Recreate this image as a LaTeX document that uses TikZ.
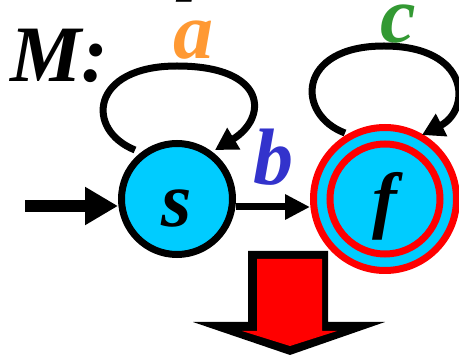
\documentclass[tikz,border=0pt]{standalone}
\usepackage{fontspec}
\setmainfont{Liberation Serif}
\usetikzlibrary{arrows.meta}
\definecolor{stcyan}{HTML}{00CCFF}
\definecolor{labA}{HTML}{FF9933}
\definecolor{labB}{HTML}{3333CC}
\definecolor{labC}{HTML}{339933}
\definecolor{ringred}{HTML}{FF0000}
\tikzset{
  lbl/.style={font=\fontsize{80}{80}\selectfont\bfseries\itshape, inner sep=0pt, anchor=base},
  loopline/.style={line width=7pt, -{Triangle[length=22pt,width=24pt]}},
  statenode/.style={circle, fill=stcyan, inner sep=0pt},
}
\begin{document}
\begin{tikzpicture}[x=1pt,y=-1pt]
\useasboundingbox (0,0) rectangle (459,355);
% fragment of line above
\node[lbl, font=\fontsize{60}{60}\selectfont\bfseries\itshape] (top) at (195,-10) {p};
% states
\node[statenode, draw=black, line width=7pt, minimum size=111pt] (s) at (177,199) {};
\node[lbl, font=\fontsize{78}{78}\selectfont\bfseries\itshape] (slab) at (177,227) {s};
\node[statenode, draw=ringred, line width=7pt, minimum size=143pt] (f) at (385,199) {};
\draw[ringred, line width=7pt] (f.center) circle (55);
\node[lbl, font=\fontsize{74}{74}\selectfont\bfseries\itshape] (flab) at (385,225) {f};
% labels
\node[lbl, anchor=base west] (M) at (10,82) {M:};
\node[lbl, text=labA] (a) at (193,59) {a};
\node[lbl, text=labB] (b) at (273,185) {b};
\node[lbl, text=labC] (c) at (398,43) {c};
% initial arrow
\coordinate (init) at (25,206);
\draw[line width=12pt, -{Triangle[length=33pt,width=36pt]}] (init) -- (init -| s.west);
% b transition
\coordinate (bs) at (236,207);
\draw[line width=7pt, -{Triangle[length=25pt,width=24pt]}] (bs) -- (bs -| f.west);
% self loops
\coordinate (a1) at (135,150);
\coordinate (a2) at (215,150);
\draw[loopline] (a1) .. controls (85,130) and (90,66) .. (177,66)
   .. controls (268,66) and (268,118) .. (a2);
\coordinate (c1) at (345,133);
\coordinate (c2) at (422,135);
\draw[loopline] (c1) .. controls (296,115) and (296,46) .. (384,46)
   .. controls (471,46) and (471,110) .. (c2);
% big down arrow
\fill[black] (248,251) -- (328,251) -- (328,322) -- (385,322) -- (290,355) -- (193,322) -- (248,322) -- cycle;
\fill[ringred] (257,259) -- (322,259) -- (322,331) -- (337,331) -- (290,346) -- (242,331) -- (257,331) -- cycle;
\end{tikzpicture}
\end{document}
